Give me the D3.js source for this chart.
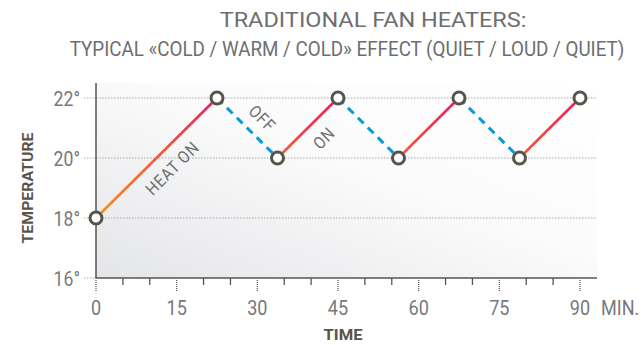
<!DOCTYPE html>
<html><head><meta charset="utf-8">
<script src="https://cdn.jsdelivr.net/npm/d3@7"></script>
<style>
html,body{margin:0;padding:0;background:#fff;}
svg{display:block;}
text{font-family:Roboto,'Liberation Sans',sans-serif;}
</style></head>
<body>
<svg id="chart" width="643" height="345"></svg>
<script>
// ---- data ----
const titleLines = ["TRADITIONAL FAN HEATERS:", "TYPICAL «COLD / WARM / COLD» EFFECT (QUIET / LOUD / QUIET)"];
const times = [0, 22.5, 33.75, 45, 56.25, 67.5, 78.75, 90];
const temps = [18, 22, 20, 22, 20, 22, 20, 22];
const phases = ["on", "off", "on", "off", "on", "off", "on"]; // segment i: point i -> i+1
const yTicks = [16, 18, 20, 22];
const xTicks = [0, 15, 30, 45, 60, 75, 90];
const annotations = [
  {text: "HEAT ON", t: 14.2, v: 19.66, angle: -45},
  {text: "OFF", t: 30.9, v: 21.32, angle: 45},
  {text: "ON", t: 42.4, v: 20.66, angle: -45}
];

const svg = d3.select("#chart");
const x = d3.scaleLinear().domain([0, 90]).range([96, 580]);
const y = d3.scaleLinear().domain([16, 22]).range([278, 98]);
const plotRight = 597, plotTop = 83;

// condensed text: a group scaled horizontally
function ctext(parent, px, py, str, o) {
  const g = parent.append("g");
  const t = g.append("text").attr("x", 0).attr("y", 0)
    .attr("text-anchor", o.anchor || "start")
    .attr("font-size", o.size).attr("fill", o.fill)
    .attr("font-weight", o.weight || "normal")
    .attr("letter-spacing", o.ls || null)
    .attr("dy", o.dy || null)
    .text(str);
  let sx = o.sx || 0.86;
  if (o.width) sx = o.width / t.node().getComputedTextLength();
  g.attr("transform", `translate(${px},${py}) rotate(${o.rotate || 0}) scale(${sx},1)`);
  return g;
}

const defs = svg.append("defs");
const bg = defs.append("linearGradient").attr("id", "bg")
  .attr("x1", "100%").attr("y1", "0%").attr("x2", "0%").attr("y2", "100%");
bg.append("stop").attr("offset", "0%").attr("stop-color", "#ffffff");
bg.append("stop").attr("offset", "45%").attr("stop-color", "#fbfbfb");
bg.append("stop").attr("offset", "100%").attr("stop-color", "#e4e5e8");

const heat = defs.append("linearGradient").attr("id", "heat")
  .attr("gradientUnits", "userSpaceOnUse")
  .attr("x1", 0).attr("x2", 0).attr("y1", y(18)).attr("y2", y(22));
heat.append("stop").attr("offset", "0%").attr("stop-color", "#f7901e");
heat.append("stop").attr("offset", "55%").attr("stop-color", "#f2573f");
heat.append("stop").attr("offset", "100%").attr("stop-color", "#ec1b5c");

// background
svg.append("rect").attr("x", x(0)).attr("y", plotTop)
  .attr("width", plotRight - x(0)).attr("height", y(16) - plotTop)
  .attr("fill", "url(#bg)");

// title
const titleCenters = [373, 347];
const titleWidths = [307, 555];
const titleBase = [27, 56];
titleLines.forEach((t, i) => {
  ctext(svg, titleCenters[i], titleBase[i], t,
    {anchor: "middle", size: 20, fill: "#6d6e70", width: titleWidths[i]});
});

// horizontal grid
svg.append("g").selectAll("line").data(yTicks.filter(d => d !== 16)).join("line")
  .attr("x1", 84).attr("x2", plotRight)
  .attr("y1", d => y(d)).attr("y2", d => y(d))
  .attr("stroke", "#a7a8aa").attr("stroke-width", 1).attr("stroke-dasharray", "1.5,1.5");
svg.append("line").attr("x1", 84).attr("x2", x(0)).attr("y1", y(16)).attr("y2", y(16))
  .attr("stroke", "#a7a8aa").attr("stroke-dasharray", "1.5,1.5");

// y labels
const yl = svg.append("g");
yTicks.forEach(d => ctext(yl, 80, y(d) + 7.5, d + "°",
  {anchor: "end", size: 20.5, fill: "#77787b", sx: 0.86}));

// x axis ticks
const minor = d3.range(5, 90, 5).filter(d => d % 15 !== 0);
svg.append("g").selectAll("line").data(minor).join("line")
  .attr("x1", d => x(d)).attr("x2", d => x(d)).attr("y1", y(16)).attr("y2", y(16) + 7)
  .attr("stroke", "#57544c").attr("stroke-width", 1.3);
svg.append("g").selectAll("line").data(xTicks).join("line")
  .attr("x1", d => x(d)).attr("x2", d => x(d)).attr("y1", y(16) + 2).attr("y2", y(16) + 14)
  .attr("stroke", "#57544c").attr("stroke-width", 1.2).attr("stroke-dasharray", "1,1");
const xl = svg.append("g");
xTicks.forEach(d => ctext(xl, x(d), 315, String(d),
  {anchor: "middle", size: 21, fill: "#77787b", sx: 0.86}));
ctext(svg, 601, 315, "MIN.", {size: 21, fill: "#77787b", sx: 0.86});

// axes lines
svg.append("line").attr("x1", x(0)).attr("x2", x(0)).attr("y1", plotTop).attr("y2", y(16))
  .attr("stroke", "#57544c").attr("stroke-width", 1.5);
svg.append("line").attr("x1", x(0) - 0.75).attr("x2", plotRight).attr("y1", y(16)).attr("y2", y(16))
  .attr("stroke", "#57544c").attr("stroke-width", 1.5);

// axis titles
ctext(svg, 33, 188, "TEMPERATURE",
  {anchor: "middle", size: 15, weight: "bold", fill: "#57544c", width: 111, rotate: -90});
ctext(svg, 343, 340, "TIME",
  {anchor: "middle", size: 15, weight: "bold", fill: "#57544c", width: 39});

// segments
const segs = phases.map((p, i) => ({p, a: i, b: i + 1}));
svg.append("g").selectAll("line").data(segs).join("line")
  .attr("x1", d => x(times[d.a])).attr("y1", d => y(temps[d.a]))
  .attr("x2", d => x(times[d.b])).attr("y2", d => y(temps[d.b]))
  .attr("stroke", d => d.p === "on" ? "url(#heat)" : "#0a9ad9")
  .attr("stroke-width", d => d.p === "on" ? 2.6 : 3)
  .attr("stroke-dasharray", d => d.p === "on" ? null : "8,6");

// annotations
const an = svg.append("g");
annotations.forEach(d => ctext(an, x(d.t), y(d.v), d.text,
  {anchor: "middle", size: 17, fill: "#6d6e70", dy: "0.35em", rotate: d.angle, sx: 0.88, ls: 1}));

// markers
svg.append("g").selectAll("circle").data(times.map((t, i) => ({t, v: temps[i]}))).join("circle")
  .attr("cx", d => x(d.t)).attr("cy", d => y(d.v)).attr("r", 6)
  .attr("fill", "#fff").attr("stroke", "#57544c").attr("stroke-width", 3);
</script>
</body></html>
